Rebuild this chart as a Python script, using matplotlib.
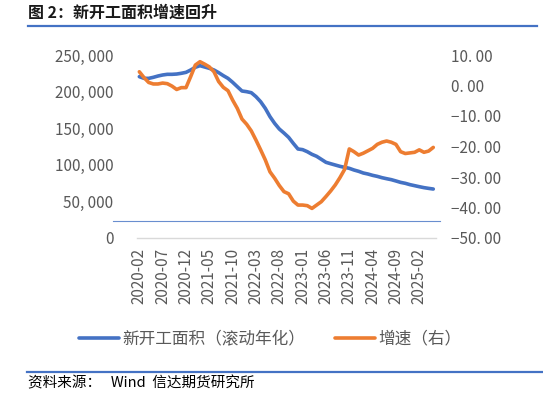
import matplotlib
matplotlib.use('Agg')
import matplotlib.pyplot as plt
from matplotlib.lines import Line2D
import pandas as pd

plt.rcParams['font.family'] = ['Noto Sans CJK SC', 'DejaVu Sans']

# monthly, 2020-02 .. 2025-05
months = pd.date_range('2020-02-01', periods=64, freq='MS').strftime('%Y-%m').tolist()

# new construction area, rolling annualized (left axis)
area = [220400, 218100, 218100, 219500, 221300, 222700, 223600, 223600, 224000, 225000,
        226300, 229500, 233200, 235400, 233600, 231800, 229500, 225900, 221800, 218100,
        212700, 206700, 200800, 199900, 198500, 193100, 186200, 177100, 165800, 156600,
        148900, 143400, 137500, 129300, 121600, 120700, 117900, 114300, 111600, 107500,
        103400, 101500, 99700, 97900, 96500, 95200, 92900, 91100, 88800, 87400,
        85600, 84200, 82400, 81000, 79700, 77900, 76000, 74700, 72900, 71500,
        70100, 68800, 67800, 66900]

# growth rate, % (right axis)
growth = [4.5, 2.6, 1.0, 0.5, 0.5, 0.8, 0.6, -0.2, -1.3, -0.7,
          -0.7, 2.9, 6.7, 7.8, 7.0, 6.1, 4.5, 1.3, -0.6, -1.7,
          -4.8, -7.5, -11.0, -12.7, -14.9, -17.9, -21.1, -24.4, -28.3, -30.4,
          -32.8, -34.8, -35.5, -37.9, -39.2, -39.2, -39.4, -40.3, -39.2, -38.1,
          -36.4, -34.6, -32.6, -30.2, -27.5, -20.8, -21.7, -22.8, -22.2, -21.4,
          -20.6, -19.3, -18.6, -18.2, -18.6, -19.3, -21.7, -22.3, -22.1, -21.9,
          -21.1, -21.9, -21.5, -20.3]

left_ticks = [0, 50000, 100000, 150000, 200000, 250000]
right_ticks = [-50, -40, -30, -20, -10, 0, 10]

blue = '#4472C4'
orange = '#ED7D31'
grey = '#595959'

W, H = 543, 396
fig = plt.figure(figsize=(W / 100, H / 100), dpi=100)
ax = fig.add_axes([137 / W, (H - 238) / H, (435.6 - 137) / W, (238 - 55) / H])
ax2 = ax.twinx()

x = list(range(len(months)))
l1, = ax.plot(x, area, color=blue, lw=2.6, solid_capstyle='round')
l2, = ax2.plot(x, growth, color=orange, lw=2.6, solid_capstyle='round')

ax.set_xlim(-0.5, len(months) - 0.5)
ax.set_ylim(0, 250000)
ax2.set_ylim(-50, 10)

ax.set_yticks(left_ticks)
ax.set_yticklabels(['0' if v == 0 else f'{v // 1000}, {v % 1000:03d}' for v in left_ticks])
ax2.set_yticks(right_ticks)
ax2.set_yticklabels([f'{v}. 00'.replace('-', '−') for v in right_ticks])

ax.set_xticks(x[::5])
ax.set_xticklabels(months[::5], rotation=90, va='top', ha='center')

for a in (ax, ax2):
    for s in a.spines.values():
        s.set_visible(False)
    a.tick_params(length=0, colors=grey, labelsize=11)
ax.spines['bottom'].set_visible(True)
ax.spines['bottom'].set_color('#D9D9D9')
ax.spines['bottom'].set_linewidth(1.0)
ax.tick_params(axis='y', pad=17)
ax.tick_params(axis='x', pad=7)
ax2.tick_params(axis='y', pad=11)

# title and rules
fig.text(28 / W, 1 - 13 / H, '图 2：新开工面积增速回升', ha='left', va='center',
         fontsize=11.5, weight='bold', color='#1A1A1A')
fig.add_artist(Line2D([28 / W, 537 / W], [1 - 26 / H] * 2, color=blue, lw=1.6))
fig.add_artist(Line2D([113 / W, 440 / W], [1 - 221 / H] * 2, color=blue, lw=0.8, alpha=0.8))
fig.add_artist(Line2D([27 / W, 1.0], [1 - 372 / H] * 2, color=blue, lw=1.6))

fig.legend([l1, l2], ['新开工面积（滚动年化）', '增速（右）'], loc='center',
           bbox_to_anchor=(270 / W, 1 - 339 / H), ncol=2, frameon=False,
           fontsize=12, labelcolor=grey, handlelength=2.4, handletextpad=0.2,
           columnspacing=1.8)

fig.text(28 / W, 1 - 383 / H, '资料来源：   Wind  信达期货研究所', ha='left', va='center',
         fontsize=10.5, style='italic', color='black')

fig.savefig('out.png', dpi=100, facecolor='white')
